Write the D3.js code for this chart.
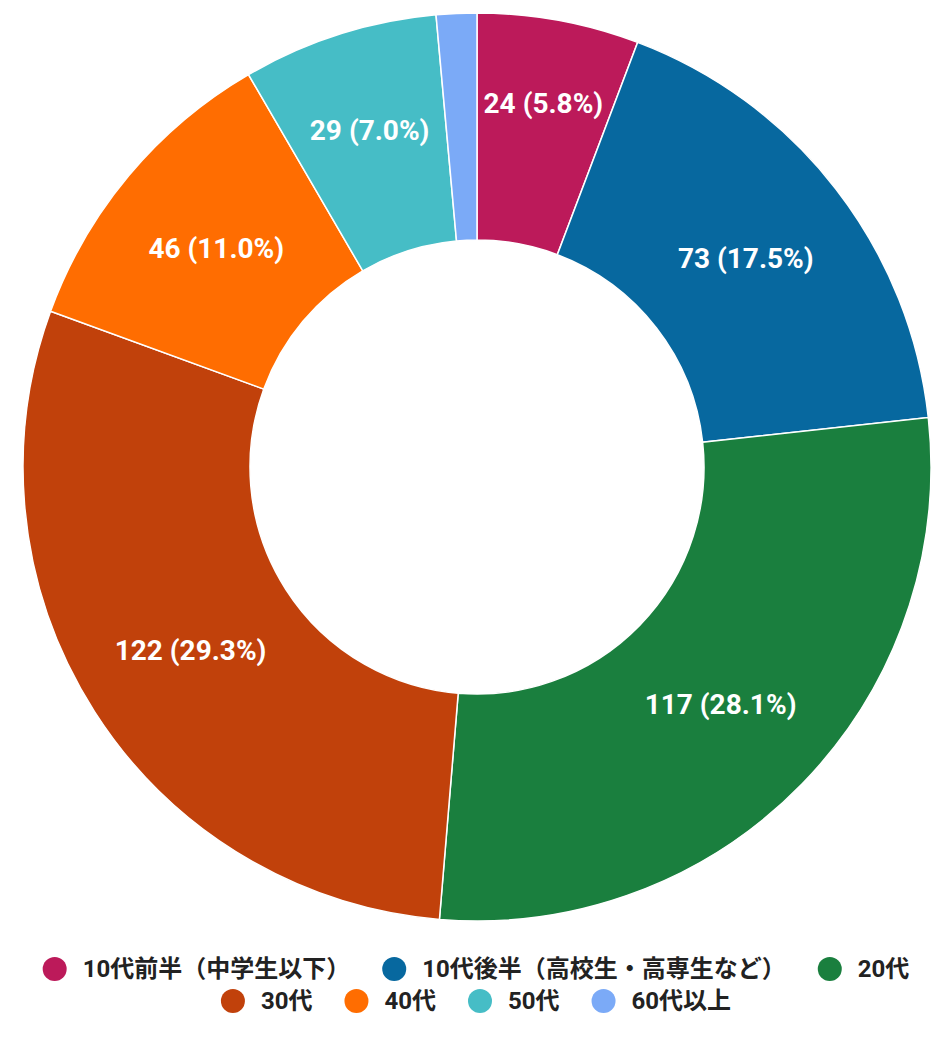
<!DOCTYPE html>
<html>
<head>
<meta charset="utf-8">
<script src="https://cdn.jsdelivr.net/npm/d3@7"></script>
<style>
  body { margin: 0; background: #fff; }
  svg { display: block; font-family: Roboto, "Noto Sans CJK JP", sans-serif; }
</style>
</head>
<body>
<div id="chart"></div>
<script>
// データ
const categories = ['10代前半（中学生以下）', '10代後半（高校生・高専生など）', '20代', '30代', '40代', '50代', '60代以上'];
const counts = [24, 73, 117, 122, 46, 29, 6];
const colors = ['#bc1a5a', '#07689f', '#1a7f3e', '#c1410b', '#ff6d01', '#46bdc6', '#7baaf7'];

const width = 952, height = 1037;
const cx = 477, cy = 467;
const outerR = 454, innerR = 227;

const svg = d3.select('#chart').append('svg')
  .attr('width', width)
  .attr('height', height);

const data = categories.map((c, i) => ({ name: c, value: counts[i], color: colors[i] }));
const total = d3.sum(counts);

const pie = d3.pie().value(d => d.value).sort(null);
const arc = d3.arc().innerRadius(innerR).outerRadius(outerR);
const arcs = pie(data);

const g = svg.append('g').attr('transform', `translate(${cx},${cy})`);

g.selectAll('path')
  .data(arcs)
  .enter()
  .append('path')
  .attr('d', arc)
  .attr('fill', d => d.data.color)
  .attr('stroke', '#fff')
  .attr('stroke-width', 1.5);

// ラベル（細いスライスは外側へ寄せる）
const labelArcs = arcs.filter(d => d.endAngle - d.startAngle > 0.2);
g.selectAll('text.slice-label')
  .data(labelArcs)
  .enter()
  .append('text')
  .attr('class', 'slice-label')
  .attr('transform', d => {
    const a = (d.startAngle + d.endAngle) / 2;
    const span = d.endAngle - d.startAngle;
    const r = span < 0.5 ? 340 + (0.5 - span) * 210 : 340;
    return `translate(${Math.sin(a) * r},${-Math.cos(a) * r})`;
  })
  .attr('text-anchor', 'middle')
  .attr('dominant-baseline', 'central')
  .attr('fill', '#fff')
  .attr('font-size', '28px')
  .attr('font-weight', 'bold')
  .text(d => `${d.value} (${(d.value / total * 100).toFixed(1)}%)`);

// 凡例
const rows = [[0, 1, 2], [3, 4, 5, 6]];
const rowY = [969, 1001];
const legend = svg.append('g').attr('class', 'legend');

rows.forEach((row, ri) => {
  const rowG = legend.append('g');
  let x = 0;
  row.forEach(i => {
    const item = rowG.append('g').attr('transform', `translate(${x},0)`);
    item.append('circle')
      .attr('cx', 12)
      .attr('cy', 0)
      .attr('r', 12)
      .attr('fill', colors[i]);
    const t = item.append('text')
      .attr('x', 40)
      .attr('y', 0)
      .attr('dominant-baseline', 'central')
      .attr('font-size', '24px')
      .attr('font-weight', 'bold')
      .attr('fill', '#222')
      .text(categories[i]);
    const w = t.node().getComputedTextLength();
    x += 40 + w + 32;
  });
  const rowW = x - 32;
  rowG.attr('transform', `translate(${(width - rowW) / 2},${rowY[ri]})`);
});
</script>
</body>
</html>
